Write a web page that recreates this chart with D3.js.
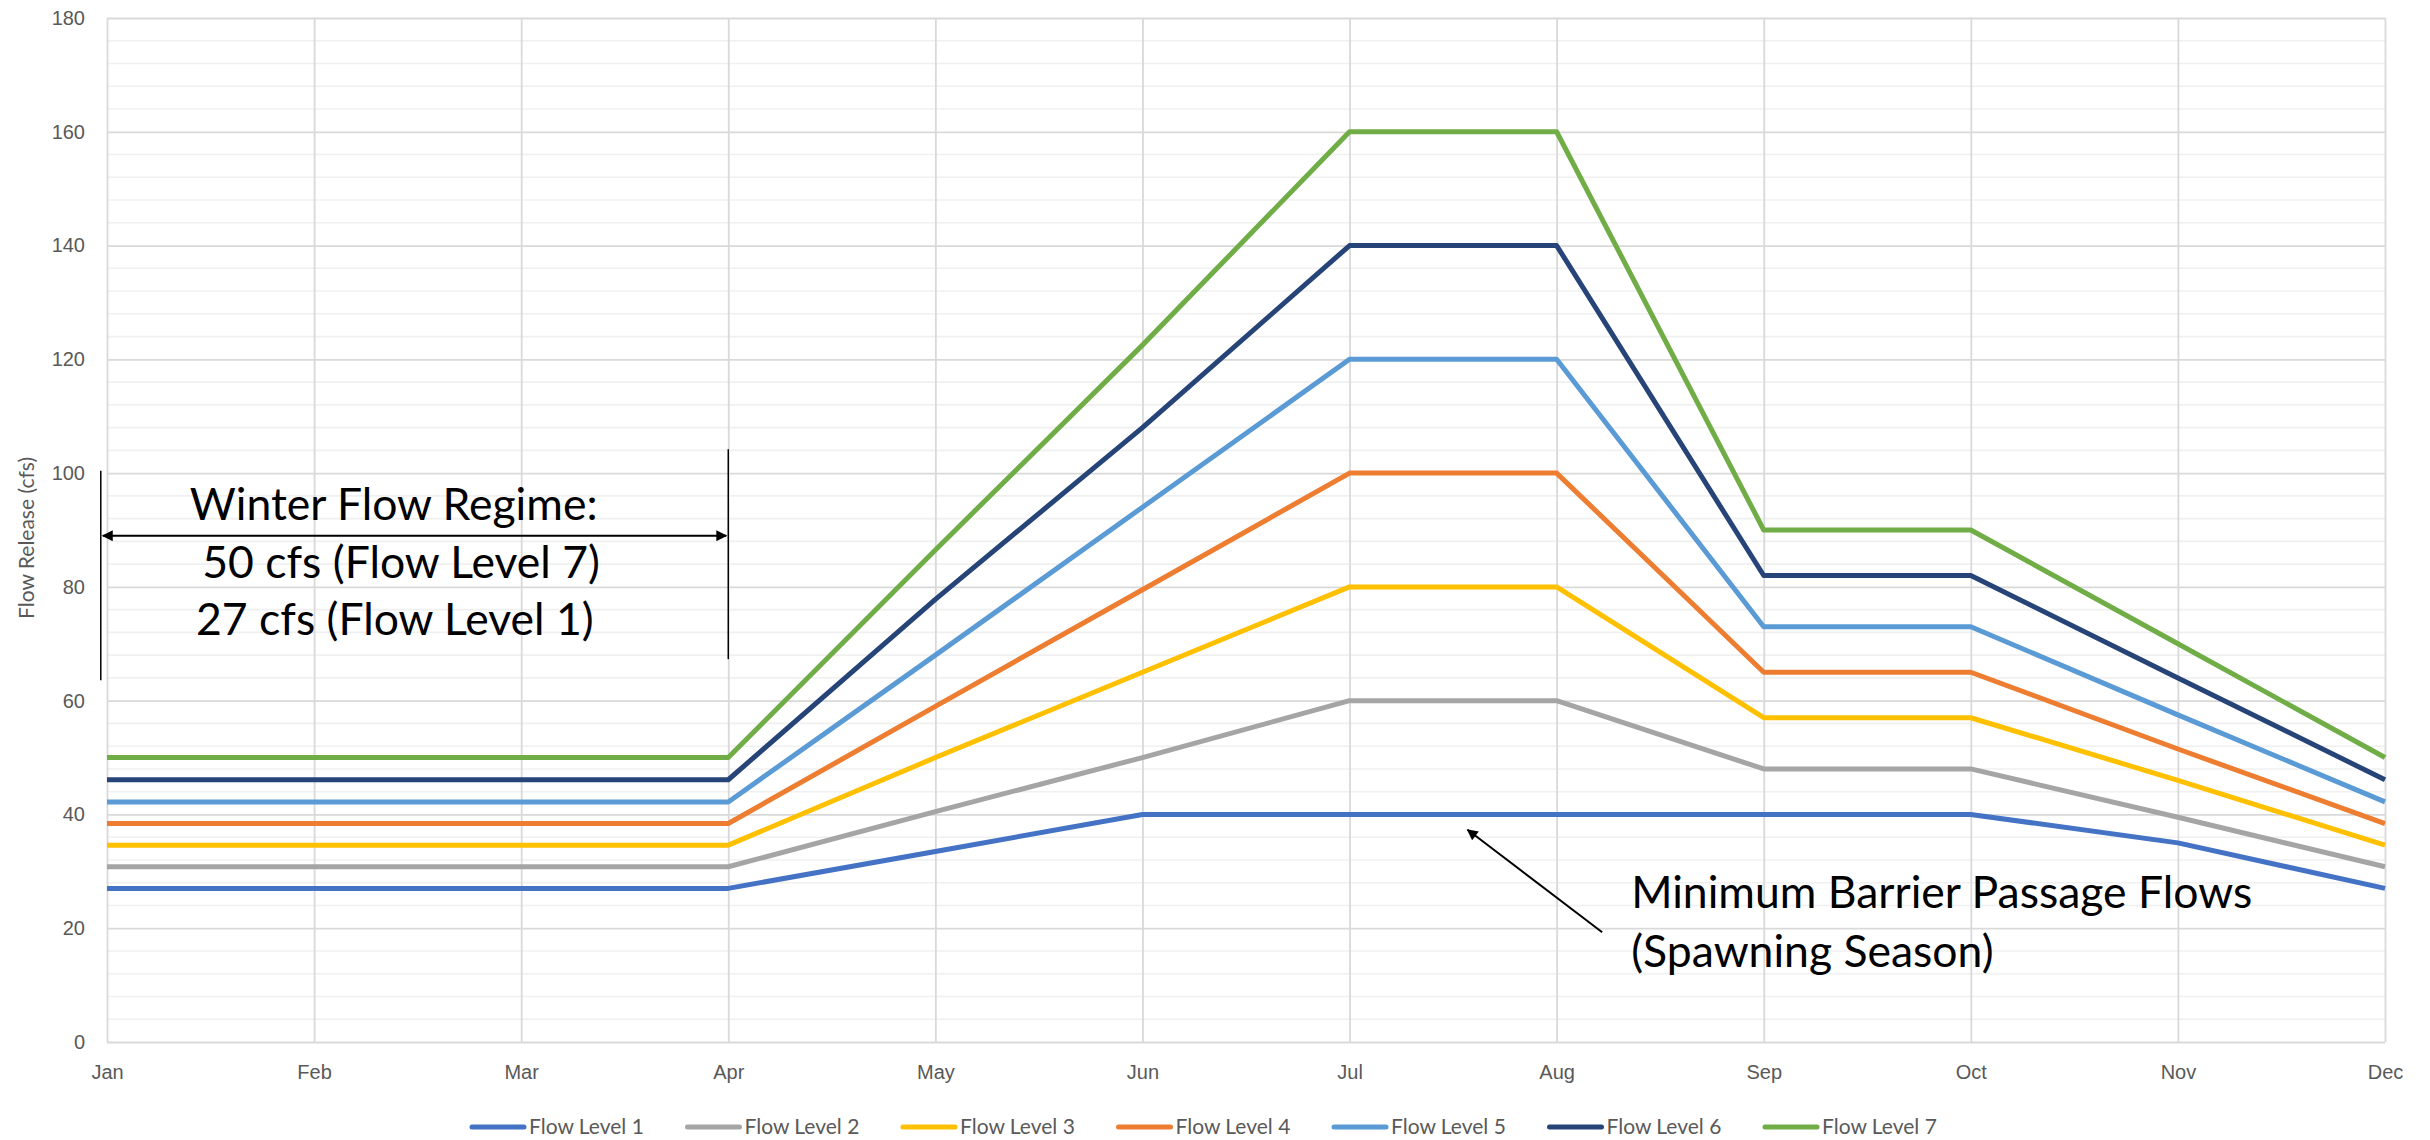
<!DOCTYPE html>
<html>
<head>
<meta charset="utf-8">
<script src="https://cdn.jsdelivr.net/npm/d3@7"></script>
<style>
    body { margin: 0; background: #fff; }
    svg { display: block; font-family: Lato, "Open Sans", sans-serif; }
    .tick text { fill: #595959; font-size: 20px; }
    .annot { fill: #000; font-size: 44.5px; }
</style>
</head>
<body>
<svg id="chart" width="2430" height="1140"></svg>
<script>
// month labels on the x axis
const months = ["Jan", "Feb", "Mar", "Apr", "May", "Jun", "Jul", "Aug", "Sep", "Oct", "Nov", "Dec"];

// flow release (cfs) per month
const level1 = [27, 27, 27, 27, 33.5, 40, 40, 40, 40, 40, 35, 27];
const level2 = [30.8, 30.8, 30.8, 30.8, 40.5, 50, 60, 60, 48, 48, 39.5, 30.8];
const level3 = [34.6, 34.6, 34.6, 34.6, 50, 65, 80, 80, 57, 57, 46, 34.6];
const level4 = [38.4, 38.4, 38.4, 38.4, 59, 79.5, 100, 100, 65, 65, 51.5, 38.4];
const level5 = [42.2, 42.2, 42.2, 42.2, 68, 94, 120, 120, 73, 73, 57.5, 42.2];
const level6 = [46.1, 46.1, 46.1, 46.1, 77.8, 108, 140, 140, 82, 82, 64, 46.1];
const level7 = [50, 50, 50, 50, 86.5, 122.5, 160, 160, 90, 90, 70, 50];

const seriesNames = ["Flow Level 1", "Flow Level 2", "Flow Level 3", "Flow Level 4",
    "Flow Level 5", "Flow Level 6", "Flow Level 7"];
const seriesValues = [level1, level2, level3, level4, level5, level6, level7];
const colors = ["#4472C4", "#A5A5A5", "#FFC000", "#ED7D31", "#5B9BD5", "#264478", "#70AD47"];

const yMajor = d3.range(0, 181, 20);
const yMinor = d3.range(0, 181, 4).filter(d => d % 20 !== 0);

const margin = {top: 18, right: 45, bottom: 98, left: 107};
const svg = d3.select("#chart");
const width = 2430 - margin.left - margin.right;
const height = 1140 - margin.top - margin.bottom;

// x is a month index (0 = Jan) so annotations can sit between months
let x = d3.scaleLinear().domain([0, months.length - 1]).range([0, width]);
let y = d3.scaleLinear().domain([0, 180]).range([height, 0]);

let g = svg.append("g").attr("transform", `translate(${margin.left},${margin.top})`);

// minor horizontal gridlines
g.append("g").selectAll("line")
    .data(yMinor)
    .enter()
    .append("line")
    .attr("x1", 0)
    .attr("x2", width)
    .attr("y1", d => y(d))
    .attr("y2", d => y(d))
    .attr("stroke", "#F0F0F0")
    .attr("stroke-width", 1.6);

// major gridlines + y labels
let yAxis = g.append("g")
    .call(d3.axisLeft(y).tickValues(yMajor).tickSize(-width).tickPadding(22));
yAxis.select(".domain").remove();
yAxis.selectAll(".tick line").attr("stroke", "#D9D9D9").attr("stroke-width", 1.8);

// vertical gridlines + month labels
let xAxis = g.append("g")
    .attr("transform", `translate(0,${height})`)
    .call(d3.axisBottom(x).tickValues(d3.range(months.length))
        .tickFormat(i => months[i]).tickSize(-height).tickPadding(23));
xAxis.select(".domain").remove();
xAxis.selectAll(".tick line").attr("stroke", "#D9D9D9").attr("stroke-width", 1.8);

// axis title
svg.append("text")
    .attr("transform", "translate(34,538) rotate(-90)")
    .attr("text-anchor", "middle")
    .attr("fill", "#595959")
    .style("font-size", "21px")
    .text("Flow Release (cfs)");

// series lines
let line = d3.line()
    .x((d, i) => x(i))
    .y(d => y(d));

g.append("g").selectAll("path")
    .data(seriesValues)
    .enter()
    .append("path")
    .attr("d", line)
    .attr("fill", "none")
    .attr("stroke", (d, i) => colors[i])
    .attr("stroke-width", 5)
    .attr("stroke-linejoin", "round");

// arrow heads
let defs = svg.append("defs");
defs.append("marker")
    .attr("id", "arrow")
    .attr("viewBox", "0 0 10 10")
    .attr("refX", 9)
    .attr("refY", 5)
    .attr("markerWidth", 8)
    .attr("markerHeight", 5.5)
    .attr("markerUnits", "strokeWidth")
    .attr("orient", "auto-start-reverse")
    .append("path")
    .attr("d", "M0,0 L10,5 L0,10 z")
    .attr("fill", "#000");

// winter flow regime bracket
let ann = g.append("g");
ann.append("line")
    .attr("x1", x(-0.03)).attr("x2", x(-0.03))
    .attr("y1", y(100.4)).attr("y2", y(63.6))
    .attr("stroke", "#000").attr("stroke-width", 1.5);
ann.append("line")
    .attr("x1", x(3.0)).attr("x2", x(3.0))
    .attr("y1", y(104.2)).attr("y2", y(67.3))
    .attr("stroke", "#000").attr("stroke-width", 1.5);
ann.append("line")
    .attr("x1", x(-0.02)).attr("x2", x(2.99))
    .attr("y1", y(89)).attr("y2", y(89))
    .attr("stroke", "#000").attr("stroke-width", 2)
    .attr("marker-start", "url(#arrow)")
    .attr("marker-end", "url(#arrow)");

ann.append("text").attr("class", "annot")
    .attr("x", x(0.40)).attr("y", y(91.8)).text("Winter Flow Regime:");
ann.append("text").attr("class", "annot")
    .attr("x", x(0.46)).attr("y", y(81.6)).text("50 cfs (Flow Level 7)");
ann.append("text").attr("class", "annot")
    .attr("x", x(0.43)).attr("y", y(71.5)).text("27 cfs (Flow Level 1)");

// minimum barrier passage annotation
ann.append("line")
    .attr("x1", x(7.22)).attr("y1", y(19.3))
    .attr("x2", x(6.57)).attr("y2", y(37.3))
    .attr("stroke", "#000").attr("stroke-width", 2)
    .attr("marker-end", "url(#arrow)");
ann.append("text").attr("class", "annot")
    .attr("x", x(7.36)).attr("y", y(23.6)).text("Minimum Barrier Passage Flows");
ann.append("text").attr("class", "annot")
    .attr("x", x(7.36)).attr("y", y(13.2)).text("(Spawning Season)");

// legend
let legend = svg.append("g")
    .attr("transform", "translate(470,1127)");
let items = legend.selectAll("g")
    .data(seriesNames)
    .enter()
    .append("g")
    .attr("transform", (d, i) => `translate(${i * 215.5},0)`);
items.append("line")
    .attr("x1", 2).attr("x2", 54)
    .attr("stroke", (d, i) => colors[i])
    .attr("stroke-width", 5)
    .attr("stroke-linecap", "round");
items.append("text")
    .attr("x", 59)
    .attr("dy", "0.35em")
    .attr("fill", "#595959")
    .style("font-size", "21px")
    .text(d => d);
</script>
</body>
</html>
